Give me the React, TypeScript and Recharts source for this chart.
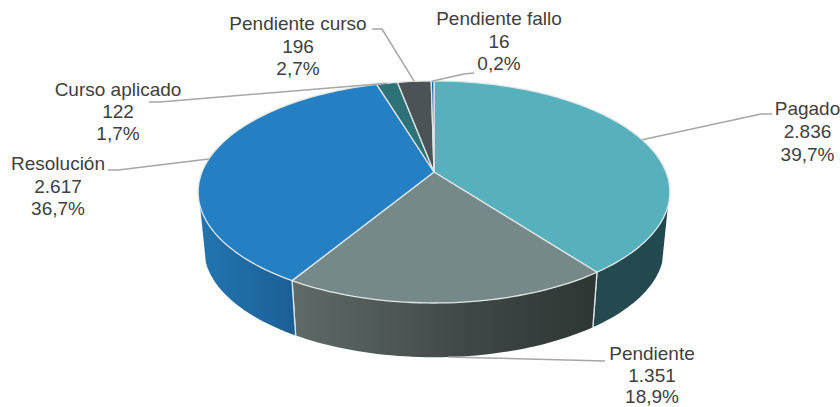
import React from "react";
import { PieChart, Pie } from "recharts";

const names = ["Pagado", "Pendiente", "Resolución", "Curso aplicado", "Pendiente curso", "Pendiente fallo"];
const values = [2836, 1351, 2617, 122, 196, 16];
const topColors = ["#56b1bd", "#778888", "#2580c3", "#2c7277", "#4b5356", "#1f6ea8"];
const sideStart = ["#24494e", "#5f6b69", "#2274ae", "#1f5257", "#363c3e", "#174f79"];
const sideMid = ["#24494e", "#414948", "#1f6aa2", "#1f5257", "#363c3e", "#174f79"];
const sideEnd = ["#224a4e", "#2e3634", "#1a5e93", "#1f5257", "#363c3e", "#174f79"];

const chartData = names.map((name, i) => ({ name, value: values[i], fill: topColors[i] }));

// Perspective of the tilted disc
const K = 0.18;
const Y_RATIO = 0.463;
const DEPTH = 57.5;
const FLOOR_SCALE = 0.975;
const FRONT_V = 0.3;

const CX = 434;
const CY = 172;
const RADIUS = 232;

// Label layout: text centre, first baseline, line height, elbow points of the leader
const labelLayout = [
  { x: 807.5, y: 115, lh: 23, floor: false, leader: [[761, 114], [772, 114]] },
  { x: 652, y: 360, lh: 21.5, floor: true, leader: [[605, 361]] },
  { x: 58, y: 170, lh: 22.5, floor: false, leader: [[118, 170], [108, 170]] },
  { x: 118, y: 96, lh: 22, floor: false, leader: [[160, 102], [149, 102]] },
  { x: 298, y: 30, lh: 22.5, floor: false, leader: [[382, 29], [372, 29]] },
  { x: 499, y: 25, lh: 22.5, floor: false, leader: [[464, 74], [474, 73]] },
];

const rim = (cx: number, cy: number, r: number, thetaDeg: number, floor = false) => {
  const t = (thetaDeg * Math.PI) / 180;
  const u = Math.sin(t);
  const v = -Math.cos(t);
  const w = 1 - K * v;
  const s = floor ? FLOOR_SCALE : 1;
  return {
    x: cx + (s * r * u) / w,
    y: cy + (floor ? DEPTH : 0) + (s * r * Y_RATIO * v) / w,
  };
};

const arcPoints = (cx: number, cy: number, r: number, a: number, b: number, floor = false) => {
  const n = Math.max(2, Math.ceil(Math.abs(b - a) / 1.5));
  const pts: { x: number; y: number }[] = [];
  for (let i = 0; i <= n; i++) pts.push(rim(cx, cy, r, a + ((b - a) * i) / n, floor));
  return pts;
};

const toPath = (pts: { x: number; y: number }[]) =>
  pts.map((p, i) => `${i ? "L" : "M"}${p.x.toFixed(2)},${p.y.toFixed(2)}`).join(" ");

const FRONT_MIN = 180 - (Math.acos(FRONT_V) * 180) / Math.PI;
const FRONT_MAX = 360 - FRONT_MIN;

const Slice = (props: any) => {
  const { cx, cy, outerRadius, startAngle, endAngle, fill, name } = props;
  const idx = names.indexOf(name ?? props.payload?.name);
  const a = 90 - startAngle;
  const b = 90 - endAngle;
  const top = arcPoints(cx, cy, outerRadius, a, b);
  const from = Math.max(a, FRONT_MIN);
  const to = Math.min(b, FRONT_MAX);
  let side = null;
  if (to > from) {
    const upper = arcPoints(cx, cy, outerRadius, from, to);
    const lower = arcPoints(cx, cy, outerRadius, from, to, true);
    const xs = [...upper, ...lower].map((p) => p.x);
    const gid = `side-${idx}`;
    const edge = (th: number) => {
      const p = rim(cx, cy, outerRadius, th);
      const q = rim(cx, cy, outerRadius, th, true);
      return `M${p.x},${p.y} L${q.x},${q.y}`;
    };
    side = (
      <g>
        <defs>
          <linearGradient
            id={gid}
            gradientUnits="userSpaceOnUse"
            x1={Math.min(...xs)}
            x2={Math.max(...xs)}
            y1={0}
            y2={0}
          >
            <stop offset="0" stopColor={sideStart[idx]} />
            <stop offset="0.55" stopColor={sideMid[idx]} />
            <stop offset="1" stopColor={sideEnd[idx]} />
          </linearGradient>
        </defs>
        <path d={`${toPath(upper)} ${toPath([...lower].reverse()).replace("M", "L")} Z`} fill={`url(#${gid})`} />
        {a >= FRONT_MIN && <path d={edge(a)} stroke="#dfe6e7" strokeWidth={1.3} fill="none" />}
        {b <= FRONT_MAX && <path d={edge(b)} stroke="#dfe6e7" strokeWidth={1.3} fill="none" />}
      </g>
    );
  }
  return (
    <g>
      {side}
      <path
        d={`M${cx},${cy} ${toPath(top).replace("M", "L")} Z`}
        fill={fill}
        stroke="#dfe6e7"
        strokeWidth={1.3}
        strokeLinejoin="round"
      />
    </g>
  );
};

const fmtValue = (n: number) => String(n).replace(/\B(?=(\d{3})+$)/g, ".");
const fmtPct = (p: number) => (p * 100).toFixed(1).replace(".", ",") + "%";

const SliceLabel = (props: any) => {
  const { cx, cy, outerRadius, midAngle, index, name, value, percent } = props;
  const lay = labelLayout[index];
  const start = rim(cx, cy, outerRadius, 90 - midAngle, lay.floor);
  const line = [[start.x, start.y], ...lay.leader].map((p, i) => `${i ? "L" : "M"}${p[0]},${p[1]}`).join(" ");
  const lines = [name, fmtValue(value), fmtPct(percent)];
  return (
    <g>
      <path d={line} fill="none" stroke="#a6a6a6" strokeWidth={1.5} />
      {lines.map((t, i) => (
        <text
          key={i}
          x={lay.x}
          y={lay.y + i * lay.lh}
          textAnchor="middle"
          fontFamily="'Liberation Sans', Arial, sans-serif"
          fontSize={19}
          fill="#404040"
        >
          {t}
        </text>
      ))}
    </g>
  );
};

export default function App() {
  return (
    <div style={{ position: "absolute", left: 0, top: 0, width: 840, height: 407, background: "#fff" }}>
      <PieChart width={840} height={407} margin={{ top: 0, right: 0, bottom: 0, left: 0 }}>
        <Pie
          data={chartData}
          dataKey="value"
          nameKey="name"
          cx={CX}
          cy={CY}
          innerRadius={0}
          outerRadius={RADIUS}
          startAngle={90}
          endAngle={-270}
          paddingAngle={0}
          stroke="none"
          isAnimationActive={false}
          shape={Slice}
          label={SliceLabel}
          labelLine={false}
        />
      </PieChart>
    </div>
  );
}
